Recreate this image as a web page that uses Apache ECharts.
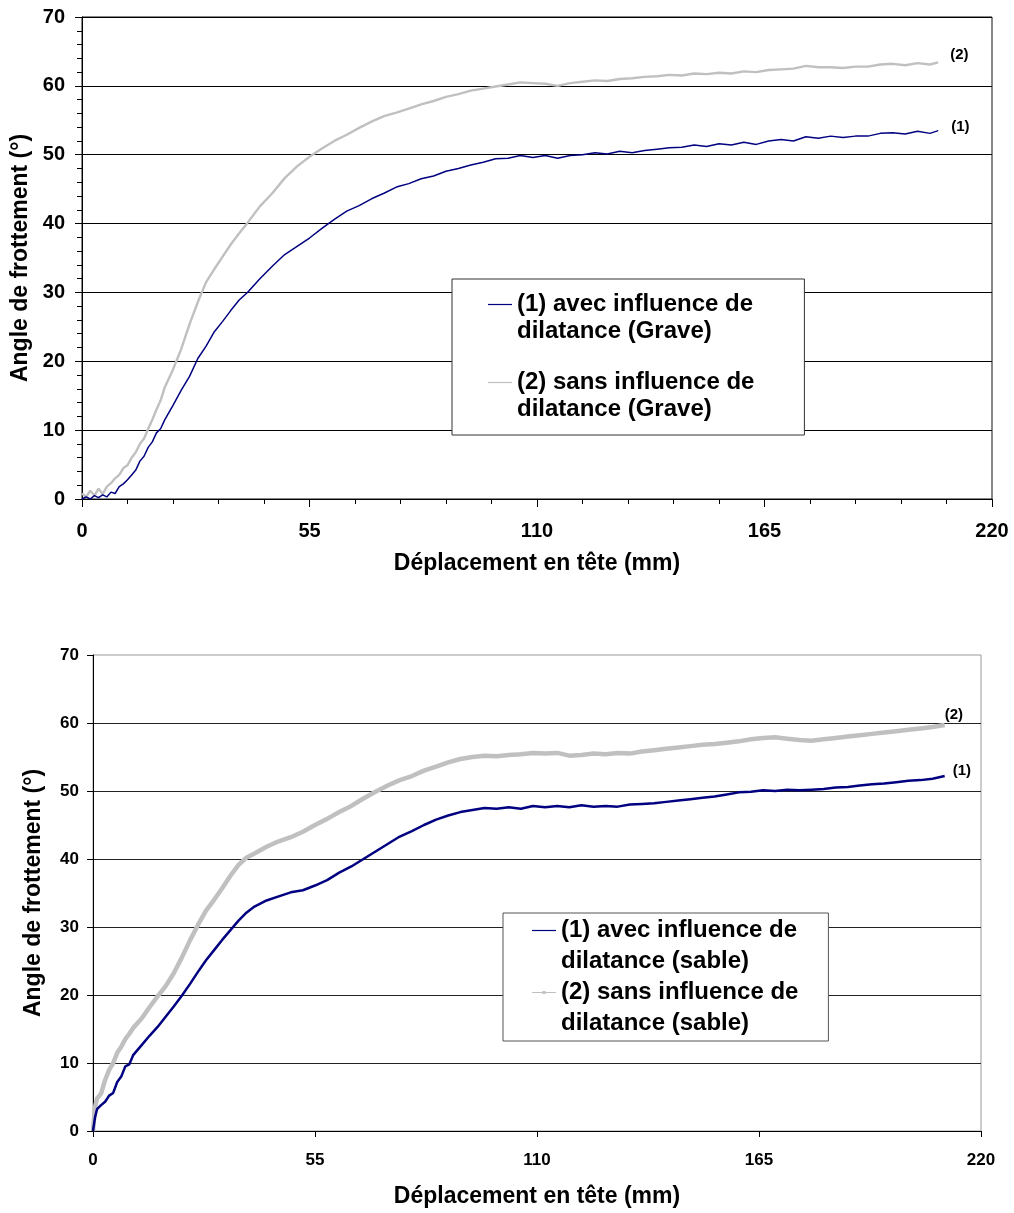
<!DOCTYPE html>
<html>
<head>
<meta charset="utf-8">
<script src="https://cdn.jsdelivr.net/npm/echarts@6/dist/echarts.min.js"></script>
<style>
html,body{margin:0;padding:0;background:#fff;}
#chart{width:1014px;height:1213px;}
</style>
</head>
<body>
<div id="chart"></div>
<script>
// ---- Data: top chart (Grave) ----
var xGrave = [0,1,2,3,4,5,6,7,8,9,10,11,12,13,14,15,16,17,18,19,20,22,24,26,28,30,32,34,36,38,40,43,46,49,52,55,58,61,64,67,70,73,76,79,82,85,88,91,94,97,100,103,106,109,112,115,118,121,124,127,130,133,136,139,142,145,148,151,154,157,160,163,166,169,172,175,178,181,184,187,190,193,196,199,202,205,207];
var graveAvec = [0,0.3,0,0.5,0.2,0.6,0.3,1.0,0.8,1.8,2.2,2.8,3.5,4.2,5.5,6.2,7.5,8.3,9.6,10.2,11.5,13.6,15.8,17.8,20.4,22.2,24.3,25.8,27.4,28.9,30.0,32.0,33.8,35.5,36.7,37.9,39.3,40.6,41.8,42.6,43.6,44.4,45.3,45.8,46.5,46.9,47.6,48.0,48.5,48.9,49.4,49.5,49.9,49.6,49.9,49.5,49.9,50.0,50.3,50.1,50.5,50.3,50.6,50.8,51.0,51.1,51.4,51.2,51.6,51.4,51.8,51.5,52.0,52.2,52.0,52.6,52.4,52.7,52.5,52.7,52.7,53.1,53.2,53.0,53.4,53.1,53.5];
var graveSans = [0.8,0.3,1.2,0.5,1.5,0.7,1.8,2.3,3.0,3.5,4.5,4.9,6.0,6.8,8.0,8.8,10.2,11.5,13.0,14.3,16.2,18.8,21.8,25.4,28.6,31.5,33.4,35.2,37.0,38.6,40.1,42.5,44.4,46.6,48.3,49.7,50.9,52.0,52.9,53.9,54.8,55.6,56.1,56.7,57.3,57.8,58.4,58.8,59.3,59.6,59.9,60.2,60.5,60.4,60.3,60.0,60.4,60.6,60.8,60.7,61.0,61.1,61.3,61.4,61.6,61.5,61.8,61.7,61.9,61.8,62.1,62.0,62.3,62.4,62.5,62.9,62.7,62.7,62.6,62.8,62.8,63.1,63.2,63.0,63.3,63.1,63.4];

// ---- Data: bottom chart (sable) ----
var xSable = [0,0.5,1,2,3,4,5,6,7,8,9,10,12,14,16,18,20,22,24,26,28,30,32,34,36,38,40,43,46,49,52,55,58,61,64,67,70,73,76,79,82,85,88,91,94,97,100,103,106,109,112,115,118,121,124,127,130,133,136,139,142,145,148,151,154,157,160,163,166,169,172,175,178,181,184,187,190,193,196,199,202,205,208,211];
var sableAvec = [0,2.0,3.2,3.8,4.3,5.2,5.6,7.2,8.0,9.5,9.8,11.2,12.6,14.0,15.3,16.8,18.3,19.9,21.6,23.4,25.1,26.6,28.1,29.5,30.9,32.1,33.0,33.9,34.5,35.1,35.4,36.1,36.9,38.0,38.9,40.0,41.1,42.2,43.3,44.1,45.0,45.8,46.4,46.9,47.2,47.5,47.4,47.6,47.4,47.8,47.6,47.8,47.6,47.9,47.7,47.8,47.7,48.0,48.1,48.2,48.4,48.6,48.8,49.0,49.2,49.5,49.8,49.9,50.1,50.0,50.2,50.1,50.2,50.3,50.5,50.6,50.8,51.0,51.1,51.3,51.5,51.6,51.8,52.2];
var sableSans = [0,3.5,4.8,5.5,7.5,9.0,10.0,11.5,12.4,13.5,14.3,15.2,16.5,18.2,19.8,21.3,23.2,25.5,28.0,30.3,32.4,34.0,35.7,37.5,39.1,40.2,40.8,41.8,42.6,43.2,44.0,45.0,45.9,46.9,47.8,48.9,49.9,50.8,51.6,52.2,53.0,53.6,54.2,54.7,55.0,55.2,55.1,55.3,55.4,55.6,55.5,55.6,55.2,55.3,55.5,55.4,55.6,55.5,55.8,56.0,56.2,56.4,56.6,56.8,56.9,57.1,57.3,57.6,57.8,57.9,57.7,57.5,57.4,57.6,57.8,58.0,58.2,58.4,58.6,58.8,59.0,59.2,59.4,59.7];

var xTicks = [0,55,110,165,220];
var yTicks = [0,10,20,30,40,50,60,70];
var seriesNames = [
  '(1) avec influence de\ndilatance (Grave)',
  '(2) sans influence de\ndilatance (Grave)',
  '(1) avec influence de\ndilatance (sable)',
  '(2) sans influence de\ndilatance (sable)'
];
var endTags = ['(1)','(2)','(1)','(2)'];
var xTitle = 'Déplacement en tête (mm)';
var yTitle = 'Angle de frottement (°)';

function zip(xs, ys){ var o=[]; for(var i=0;i<xs.length;i++){ o.push([xs[i], ys[i]]); } return o; }

var FONT = '"Liberation Sans", Arial, sans-serif';
var BLUE = '#000080', GREY = '#C0C0C0';

var chart = echarts.init(document.getElementById('chart'), null, {renderer:'canvas'});

function yAx(grid, fs, margin, nameGap, minor){
  return {
    type:'value', gridIndex:grid, min:yTicks[0], max:yTicks[yTicks.length-1], interval:10,
    name:yTitle, nameLocation:'middle', nameGap:nameGap, nameRotate:90,
    nameTextStyle:{fontFamily:FONT, fontWeight:'bold', fontSize:23, color:'#000'},
    axisLine:{show:true, lineStyle:{color:'#000', width:1}},
    axisTick:{show:true, inside:false, length:minor?7:6, lineStyle:{color:'#000'}},
    minorTick:{show:!!minor, splitNumber:5, length:5, lineStyle:{color:'#000'}},
    axisLabel:{fontFamily:FONT, fontWeight:'bold', fontSize:fs, color:'#000', margin:margin},
    splitLine:{show:true, showMaxLine: !!minor, lineStyle:{color:minor?'#000':'#222', width:1}}
  };
}
function xAx(grid, fs, margin, nameGap, minor){
  return {
    type:'value', gridIndex:grid, min:xTicks[0], max:xTicks[xTicks.length-1], interval:55,
    name:xTitle, nameLocation:'middle', nameGap:nameGap,
    nameTextStyle:{fontFamily:FONT, fontWeight:'bold', fontSize:23, color:'#000'},
    axisLine:{show:true, onZero:false, lineStyle:{color:'#000', width:1}},
    axisTick:{show:true, inside:false, length:minor?8:6, lineStyle:{color:'#000'}},
    minorTick:{show:!!minor, splitNumber:5, length:5, lineStyle:{color:'#000'}},
    axisLabel:{fontFamily:FONT, fontWeight:'bold', fontSize:fs, color:'#000', margin:margin},
    splitLine:{show:false}
  };
}

function legendIcon(lh, dot){
  var h = 2*lh, c = lh/2;
  var p = 'path://M0,0 M24,' + h + ' M0,' + (c-0.6) + ' L24,' + (c-0.6) + ' L24,' + (c+0.6) + ' L0,' + (c+0.6) + ' Z';
  if(dot){ p += ' M10.5,' + (c-1.5) + ' L13.5,' + (c-1.5) + ' L13.5,' + (c+1.5) + ' L10.5,' + (c+1.5) + ' Z'; }
  return p;
}

var option = {
  animation:false,
  backgroundColor:'#fff',
  grid:[
    {left:82, top:17, width:910, height:482, show:true, borderColor:'#111', borderWidth:1, backgroundColor:'transparent'},
    {left:93, top:655, width:888, height:476, show:true, borderColor:'#999', borderWidth:1, backgroundColor:'transparent'}
  ],
  xAxis:[
    xAx(0, 20, 22, 53, true),
    {type:'value', gridIndex:0, min:0, max:220, interval:55, axisLine:{show:false}, axisLabel:{show:false},
     axisTick:{show:true, inside:true, length:8, lineStyle:{color:'#000'}}, splitLine:{show:false}},
    xAx(1, 17, 21, 54, false)
  ],
  yAxis:[
    yAx(0, 20, 17, 50, true),
    yAx(1, 17, 14, 48, false)
  ],
  legend:[
    {
      orient:'vertical', left:452, top:279, itemWidth:24, itemHeight:54, itemGap:24,
      padding:[12,50,12,36], backgroundColor:'#fff', borderColor:'#333', borderWidth:1, borderRadius:0,
      textStyle:{fontFamily:FONT, fontWeight:'bold', fontSize:24, lineHeight:27, color:'#000'},
      data:[{name:seriesNames[0], icon:legendIcon(27,false)}, {name:seriesNames[1], icon:legendIcon(27,false)}]
    },
    {
      orient:'vertical', left:503, top:913, itemWidth:24, itemHeight:62, itemGap:0,
      padding:[2,30,2,29], backgroundColor:'#fff', borderColor:'#555', borderWidth:1, borderRadius:0,
      textStyle:{fontFamily:FONT, fontWeight:'bold', fontSize:24, lineHeight:31, color:'#000'},
      data:[{name:seriesNames[2], icon:legendIcon(31,false)}, {name:seriesNames[3], icon:legendIcon(31,true)}]
    }
  ],
  series:[
    {name:seriesNames[0], type:'line', xAxisIndex:0, yAxisIndex:0, data:zip(xGrave, graveAvec), showSymbol:false, symbol:'none',
     color:BLUE, lineStyle:{color:BLUE, width:1.5}, z:3,
     endLabel:{show:true, formatter:endTags[0], distance:0, offset:[13,-4], fontFamily:FONT, fontWeight:'bold', fontSize:15, color:'#000'}},
    {name:seriesNames[1], type:'line', xAxisIndex:0, yAxisIndex:0, data:zip(xGrave, graveSans), showSymbol:false, symbol:'none',
     color:GREY, lineStyle:{color:GREY, width:2.4}, z:2,
     endLabel:{show:true, formatter:endTags[1], distance:0, offset:[12,-8], fontFamily:FONT, fontWeight:'bold', fontSize:15, color:'#000'}},
    {name:seriesNames[2], type:'line', xAxisIndex:2, yAxisIndex:1, data:zip(xSable, sableAvec), showSymbol:false, symbol:'none',
     color:BLUE, lineStyle:{color:BLUE, width:2.5}, z:3,
     endLabel:{show:true, formatter:endTags[2], distance:0, offset:[8,-5], fontFamily:FONT, fontWeight:'bold', fontSize:15, color:'#000'}},
    {name:seriesNames[3], type:'line', xAxisIndex:2, yAxisIndex:1, data:zip(xSable, sableSans), showSymbol:false, symbol:'none',
     color:GREY, lineStyle:{color:GREY, width:4.5}, z:2,
     endLabel:{show:true, formatter:endTags[3], distance:0, offset:[0,-10], fontFamily:FONT, fontWeight:'bold', fontSize:15, color:'#000'}}
  ]
};
chart.setOption(option);
</script>
</body>
</html>
